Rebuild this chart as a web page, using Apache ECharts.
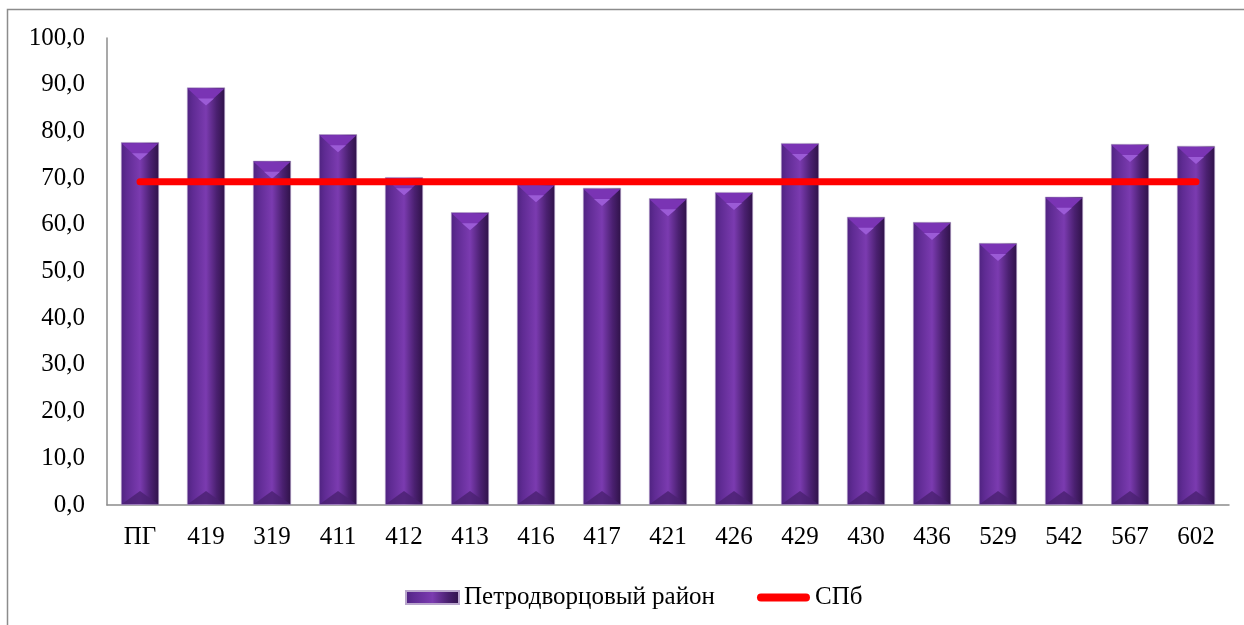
<!DOCTYPE html>
<html>
<head>
<meta charset="utf-8">
<script src="https://cdn.jsdelivr.net/npm/echarts@6/dist/echarts.min.js"></script>
<style>
  html, body { margin: 0; padding: 0; background: #fff; }
  #chart { width: 1244px; height: 625px; }
</style>
</head>
<body>
<div id="chart"></div>
<script>
// school numbers along the x axis
const categories = ['ПГ', '419', '319', '411', '412', '413', '416', '417', '421',
  '426', '429', '430', '436', '529', '542', '567', '602'];
// Петродворцовый район, per school
const districtValues = [77.7, 89.4, 73.7, 79.4, 70.2, 62.7, 68.7, 67.9, 65.7,
  67.0, 77.5, 61.7, 60.6, 56.1, 66.0, 77.3, 76.9];
// city average (СПб)
const cityLevel = 69.2;
const cityValues = categories.map(() => cityLevel);

const seriesNames = ['Петродворцовый район', 'СПб'];

const font = "'Liberation Serif', 'DejaVu Serif', serif";

const barFill = new echarts.graphic.LinearGradient(0, 0, 1, 0, [
  { offset: 0, color: '#4f2380' },
  { offset: 0.15, color: '#5f2b93' },
  { offset: 0.5, color: '#7b3bb0' },
  { offset: 0.78, color: '#4a2070' },
  { offset: 1, color: '#2f1248' }
]);

const chart = echarts.init(document.getElementById('chart'));

chart.setOption({
  animation: false,
  backgroundColor: '#fff',
  graphic: [{
    type: 'rect',
    shape: { x: 7.5, y: 9.5, width: 1260, height: 640 },
    style: { fill: 'none', stroke: '#8c8c8c', lineWidth: 1.5 },
    silent: true
  }],
  grid: { left: 107, right: 15, top: 38, bottom: 120 },
  legend: {
    data: [
      { name: seriesNames[0], icon: 'rect' },
      { name: seriesNames[1], icon: 'path://M4,0 L49,0 A4,4 0 0 1 49,8 L4,8 A4,4 0 0 1 4,0 Z' }
    ],
    left: 400,
    top: 580,
    itemWidth: 53,
    itemHeight: 13,
    itemGap: 42,
    textStyle: { fontFamily: font, fontSize: 25, color: '#000' }
  },
  xAxis: {
    type: 'category',
    data: categories,
    axisLine: { lineStyle: { color: '#8c8c8c', width: 1.5 } },
    axisTick: { show: false },
    axisLabel: { margin: 20, fontFamily: font, fontSize: 25, color: '#000' }
  },
  yAxis: {
    type: 'value',
    min: 0,
    max: 100,
    interval: 10,
    axisLine: { show: true, lineStyle: { color: '#8c8c8c', width: 1.5 } },
    axisTick: { show: false },
    splitLine: { show: false },
    axisLabel: {
      margin: 22,
      fontFamily: font,
      fontSize: 25,
      color: '#000',
      formatter: v => v.toFixed(1).replace('.', ',')
    }
  },
  series: [
    {
      name: seriesNames[0],
      type: 'bar',
      data: districtValues,
      barWidth: 38,
      itemStyle: { color: barFill, borderColor: '#b9a6cc', borderWidth: 0.6 }
    },
    {
      // top bevel of each bar
      type: 'pictorialBar',
      data: districtValues,
      symbol: 'triangle',
      symbolRotate: 180,
      symbolSize: [37, 17],
      symbolPosition: 'end',
      symbolOffset: [0, 1],
      itemStyle: { color: '#7a34b4' },
      silent: true,
      z: 3
    },
    {
      // light tip of the top bevel
      type: 'pictorialBar',
      data: districtValues,
      symbol: 'triangle',
      symbolRotate: 180,
      symbolSize: [16, 7],
      symbolPosition: 'end',
      symbolOffset: [0, 11],
      itemStyle: { color: '#9b5bd6' },
      silent: true,
      z: 4
    },
    {
      // bottom bevel of each bar
      type: 'pictorialBar',
      data: districtValues,
      symbol: 'triangle',
      symbolSize: [36, 13],
      symbolPosition: 'start',
      symbolOffset: [0, -1],
      itemStyle: { color: '#4a2070', opacity: 0.8 },
      silent: true,
      z: 3
    },
    {
      name: seriesNames[1],
      type: 'line',
      data: cityValues,
      symbol: 'none',
      lineStyle: { color: '#ff0000', width: 7, cap: 'round' },
      itemStyle: { color: '#ff0000' },
      z: 5
    }
  ]
});
</script>
</body>
</html>
